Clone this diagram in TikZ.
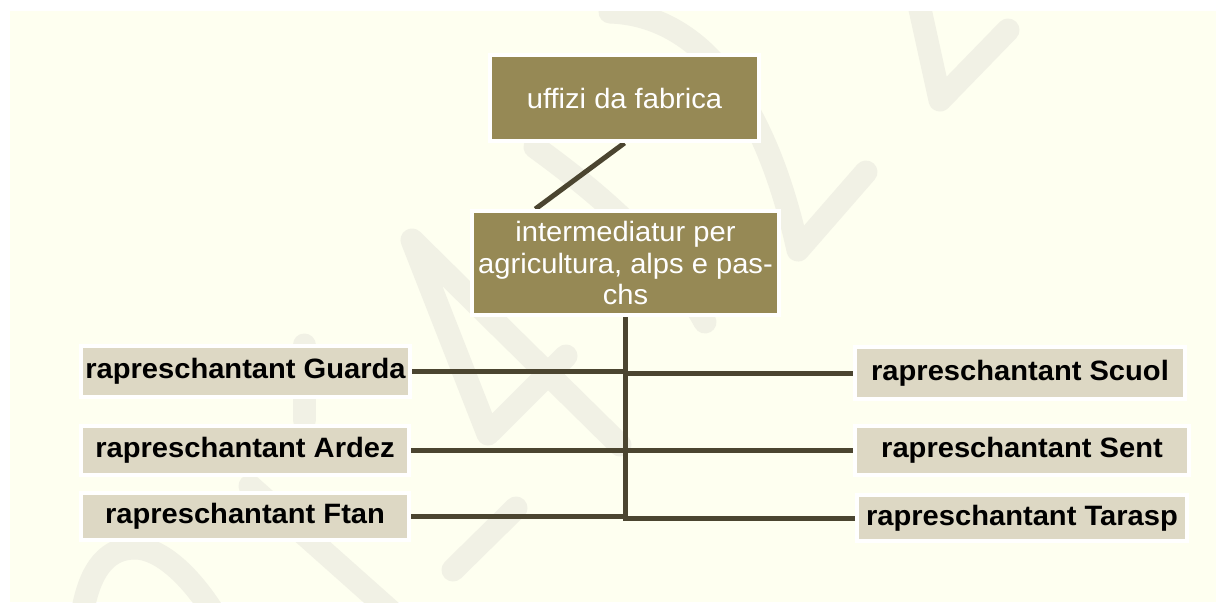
\documentclass[tikz,border=0pt]{standalone}
\usepackage{fontspec}
\setmainfont{Liberation Sans}[FakeStretch=1.04]
\usetikzlibrary{calc}
\definecolor{bgyellow}{HTML}{FEFFF0}
\definecolor{wm}{HTML}{F1F1E5}
\definecolor{olivebox}{HTML}{968955}
\definecolor{sandbox}{HTML}{DDD8C4}
\definecolor{linkcol}{HTML}{4B4530}
\pgfdeclarelayer{bg}
\pgfsetlayers{bg,main}
\begin{document}
\begin{tikzpicture}[x=1pt,y=-1pt,
  darkbox/.style={draw=white,line width=4pt,fill=olivebox,text=white,
    font=\fontsize{28}{31.5}\selectfont,align=center,inner sep=0pt},
  lightbox/.style={draw=white,line width=4pt,fill=sandbox,text=black,
    font=\fontsize{28}{31.5}\selectfont\bfseries,inner sep=0pt},
  link/.style={draw=linkcol,line width=5pt},
  wmark/.style={draw=wm,line width=23pt,line cap=round,line join=round}]
\useasboundingbox (0,0) rectangle (1216,603);
\begin{pgfonlayer}{bg}
  \fill[white] (0,0) rectangle (1216,603);
  \fill[bgyellow] (10,11) rectangle (1216,602);
  \begin{scope}
    \clip (10,11) rectangle (1216,602);
    \draw[wmark] (918,0) -- (940,100) -- (1008,30);
    \draw[wmark] (610,12) .. controls (700,15) and (765,100) .. (798,250) -- (866,172);
    \draw[wmark] (535,147) .. controls (580,180) and (660,240) .. (705,322);
    \draw[wmark] (488,434) -- (412,240) -- (620,445);
    \draw[wmark] (490,432) -- (566,356);
    \draw[wmark] (453,570) -- (516,508);
    \draw[wmark] (304,345) -- (304,420);
    \draw[wmark] (82,615) .. controls (90,565) and (110,548) .. (135,548) .. controls (160,548) and (190,575) .. (215,615);
    \draw[wmark] (250,486) -- (395,615);
  \end{scope}
\end{pgfonlayer}

\node[darkbox,minimum width=269pt,minimum height=86pt] (top) at (624.5,98) {uffizi da fabrica};
\node[darkbox,minimum width=307pt,minimum height=104pt] (mid) at (625.5,263)
  {intermediatur per\\agricultura, alps e pas-\\chs};

\node[lightbox,minimum width=329pt,minimum height=51pt] (guarda) at (245.5,371.5) {rapreschantant Guarda};
\node[lightbox,minimum width=328pt,minimum height=49pt] (ardez) at (245,450.5) {rapreschantant Ardez};
\node[lightbox,minimum width=328pt,minimum height=47pt] (ftan) at (245,516.5) {rapreschantant Ftan};

\node[lightbox,minimum width=330pt,minimum height=52pt] (scuol) at (1020,373) {rapreschantant Scuol};
\node[lightbox,minimum width=334pt,minimum height=49pt] (sent) at (1022,450.5) {rapreschantant Sent};
\node[lightbox,minimum width=330pt,minimum height=46pt] (tarasp) at (1022,518) {rapreschantant Tarasp};

\begin{pgfonlayer}{bg}
  \coordinate (diagend) at ($(mid.north west)!0.21!(mid.north east)$);
  \coordinate (trunkend) at ($(mid.south |- tarasp.west)+(0,2.5)$);
  \draw[link] (top.south) -- (diagend);
  \draw[link] (mid.south) -- (trunkend);
  \draw[link] (guarda.east) -- (guarda.east -| mid.south);
  \draw[link] (ardez.east) -- (ardez.east -| mid.south);
  \draw[link] (ftan.east) -- (ftan.east -| mid.south);
  \draw[link] (scuol.west) -- (scuol.west -| mid.south);
  \draw[link] (sent.west) -- (sent.west -| mid.south);
  \draw[link] (tarasp.west) -- (tarasp.west -| mid.south);
\end{pgfonlayer}
\end{tikzpicture}
\end{document}
